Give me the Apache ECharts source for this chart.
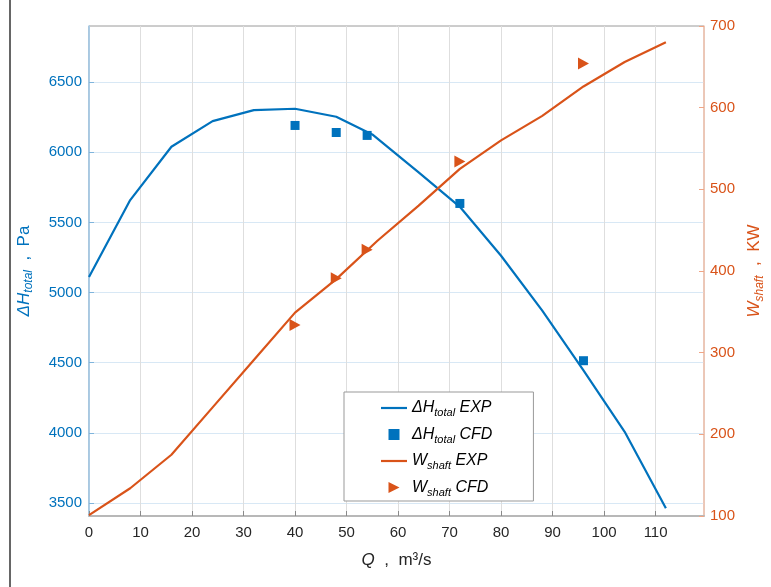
<!DOCTYPE html>
<html>
<head>
<meta charset="utf-8">
<script src="https://cdn.jsdelivr.net/npm/echarts@6/dist/echarts.min.js"></script>
<style>
  html, body { margin: 0; padding: 0; background: #fff; }
  #main { width: 771px; height: 587px; }
</style>
</head>
<body>
<div id="main"></div>
<script>
// total pressure rise (left axis) and shaft power (right axis) vs flow
const hExpQ = [0, 8, 16, 24, 32, 40, 48, 55, 64, 72, 80, 88, 96, 104, 112]
const hExp = [5110, 5659, 6039, 6222, 6300, 6310, 6253, 6127, 5856, 5611, 5262, 4871, 4445, 4007, 3462]
const wExpQ = [0, 8, 16, 24, 32, 40, 48, 56, 64, 72, 80, 88, 96, 104, 112]
const wExp = [101, 134, 175, 233, 291, 349, 390, 437, 480, 525, 560, 590, 626, 656, 680]
const cfdQ = [40, 48, 54, 72, 96]
const hCfd = [6191, 6141, 6120, 5635, 4514]
const wCfd = [334, 391, 426, 534, 654]
const qTicks = [0, 10, 20, 30, 40, 50, 60, 70, 80, 90, 100, 110]
const hTicks = [3500, 4000, 4500, 5000, 5500, 6000, 6500]

const FONT = 'Liberation Sans, Arial, sans-serif'
const BLUE = '#0072BD'
const ORANGE = '#D95319'
const LINE_ICON = 'path://M0,0 L26,0 L26,2.2 L0,2.2 Z'
const SQUARE_ICON = 'path://M0,0 L10,0 L10,10 L0,10 Z'
const TRI_ICON = 'path://M0,0 L10,5 L0,10 Z'

const pairs = (xs, ys) => xs.map((x, i) => [x, ys[i]])

const legendText = {
  'H EXP': '{m|ΔH}{s|total}{m| EXP}',
  'H CFD': '{m|ΔH}{s|total}{m| CFD}',
  'W EXP': '{m|W}{s|shaft}{m| EXP}',
  'W CFD': '{m|W}{s|shaft}{m| CFD}'
}

let myChart = echarts.init(document.getElementById('main'))
let options = {
  backgroundColor: '#fff',
  animation: false,
  grid: {
    left: 89, right: 67, top: 26, bottom: 71,
    show: true, borderColor: '#9a9a9a', borderWidth: 1,
    outerBoundsMode: 'none'
  },
  graphic: [{
    type: 'line', shape: { x1: 10, y1: 0, x2: 10, y2: 587 },
    style: { stroke: '#333', lineWidth: 1.5 }
  }],
  legend: {
    orient: 'vertical',
    left: 344, top: 392,
    padding: [8, 41, 3, 37],
    itemGap: 8,
    itemWidth: 26, itemHeight: 11,
    symbolKeepAspect: true,
    borderColor: '#999', borderWidth: 1,
    backgroundColor: '#fff',
    data: [
      { name: 'H EXP', icon: LINE_ICON },
      { name: 'H CFD', icon: SQUARE_ICON },
      { name: 'W EXP', icon: LINE_ICON },
      { name: 'W CFD', icon: TRI_ICON }
    ],
    formatter: name => legendText[name],
    textStyle: {
      fontFamily: FONT, fontSize: 16, color: '#000',
      rich: {
        m: { fontFamily: FONT, fontSize: 16, fontStyle: 'italic', color: '#000' },
        s: { fontFamily: FONT, fontSize: 11, fontStyle: 'italic', color: '#000', padding: [10, 0, 0, 0] }
      }
    }
  },
  xAxis: {
    type: 'value', min: 0, max: 119.4,
    name: '{i|Q}{n|  ,  m³/s}',
    nameLocation: 'middle', nameGap: 36,
    nameTextStyle: {
      rich: {
        i: { fontFamily: FONT, fontSize: 17, fontStyle: 'italic', color: '#262626' },
        n: { fontFamily: FONT, fontSize: 17, color: '#262626' }
      }
    },
    axisLine: { show: true, lineStyle: { color: '#b8b8b8', width: 2 } },
    axisTick: { show: true, inside: true, length: 5, customValues: qTicks, lineStyle: { color: '#8a8a8a' } },
    axisLabel: { customValues: qTicks, margin: 9, fontFamily: FONT, fontSize: 15, color: '#262626' },
    splitLine: { show: true, lineStyle: { color: '#dedede', width: 1 } }
  },
  yAxis: [{
    type: 'value', min: 3407, max: 6900, position: 'left',
    name: '{i|ΔH}{s|total}{n|  ,  Pa}',
    nameLocation: 'middle', nameGap: 54, nameRotate: 90,
    nameTextStyle: {
      rich: {
        i: { fontFamily: FONT, fontSize: 17, fontStyle: 'italic', color: BLUE },
        s: { fontFamily: FONT, fontSize: 12, fontStyle: 'italic', color: BLUE, padding: [10, 0, 0, 0] },
        n: { fontFamily: FONT, fontSize: 17, color: BLUE }
      }
    },
    axisLine: { show: true, lineStyle: { color: '#9cc6e6', width: 1.5 } },
    axisTick: { show: true, inside: true, length: 5, customValues: hTicks, lineStyle: { color: '#7fb4dc' } },
    axisLabel: { customValues: hTicks, margin: 7, fontFamily: FONT, fontSize: 15, color: BLUE, formatter: v => String(v) },
    splitLine: { show: true, lineStyle: { color: '#d8e8f5', width: 1 } }
  }, {
    type: 'value', min: 100, max: 700, interval: 100, position: 'right',
    name: '{i|W}{s|shaft}{n|  ,  KW}',
    nameLocation: 'middle', nameGap: 38, nameRotate: 90,
    nameTextStyle: {
      rich: {
        i: { fontFamily: FONT, fontSize: 17, fontStyle: 'italic', color: ORANGE },
        s: { fontFamily: FONT, fontSize: 12, fontStyle: 'italic', color: ORANGE, padding: [10, 0, 0, 0] },
        n: { fontFamily: FONT, fontSize: 17, color: ORANGE }
      }
    },
    axisLine: { show: true, lineStyle: { color: '#f6c6b0', width: 1.5 } },
    axisTick: { show: true, inside: true, length: 5, lineStyle: { color: '#f0a585' } },
    axisLabel: { margin: 6, fontFamily: FONT, fontSize: 15, color: ORANGE, formatter: v => String(v) },
    splitLine: { show: false }
  }],
  series: [{
    name: 'H EXP', type: 'line', yAxisIndex: 0,
    data: pairs(hExpQ, hExp),
    symbol: 'none', color: BLUE,
    lineStyle: { color: BLUE, width: 2.2 }
  }, {
    name: 'H CFD', type: 'scatter', yAxisIndex: 0,
    data: pairs(cfdQ, hCfd),
    symbol: 'rect', symbolSize: 9, color: BLUE,
    itemStyle: { color: BLUE, opacity: 1 }
  }, {
    name: 'W EXP', type: 'line', yAxisIndex: 1,
    data: pairs(wExpQ, wExp),
    symbol: 'none', color: ORANGE,
    lineStyle: { color: ORANGE, width: 2.2 }
  }, {
    name: 'W CFD', type: 'scatter', yAxisIndex: 1,
    data: pairs(cfdQ, wCfd),
    symbol: TRI_ICON, symbolSize: [11, 12], color: ORANGE,
    itemStyle: { color: ORANGE, opacity: 1 }
  }]
}
myChart.setOption(options)
</script>
</body>
</html>
